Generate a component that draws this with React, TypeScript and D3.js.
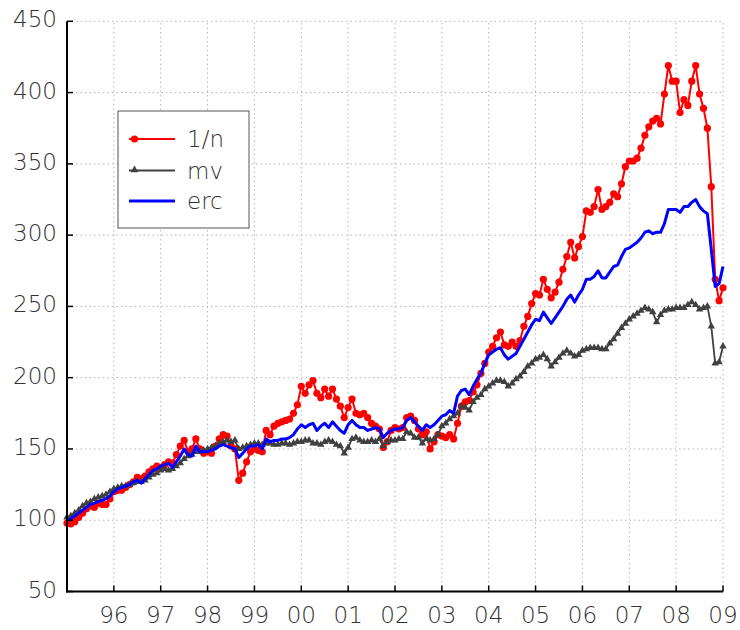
import React from "react";
import * as d3 from "d3";

const START_YEAR = 1995;
const yTicks = [50, 100, 150, 200, 250, 300, 350, 400, 450];
const xTickYears = [1996, 1997, 1998, 1999, 2000, 2001, 2002, 2003, 2004, 2005, 2006, 2007, 2008, 2009];
const xTickLabels = ["96", "97", "98", "99", "00", "01", "02", "03", "04", "05", "06", "07", "08", "09"];
const seriesNames = ["1/n", "mv", "erc"];

// monthly values, Jan 1995 .. Jan 2009
const oneOverN = [
  98, 97.5, 99, 102, 105, 108, 110, 109, 112, 111, 111, 115,
  120, 121, 121, 123, 125, 127, 130, 129, 131, 134, 136, 138,
  137, 139, 141, 140, 146, 152, 156, 148, 150, 157, 150, 147,
  148, 147, 152, 157, 160, 159, 152, 150, 128, 133, 141, 148,
  150, 149, 148, 163, 160, 166, 168, 169, 170, 171, 175, 181,
  194, 189, 195, 198, 189, 186, 192, 187, 192, 185, 180, 172,
  179, 185, 175, 174, 175, 172, 168, 166, 164, 151, 155, 163,
  165, 164, 165, 172, 173, 170, 164, 160, 162, 150, 155, 160,
  159, 158, 160, 157, 168, 180, 183, 184, 190, 195, 203, 210,
  218, 222, 228, 232, 223, 222, 225, 222, 226, 236, 243, 252,
  259, 258, 269, 262, 256, 260, 267, 276, 285, 295, 284, 292,
  299, 317, 316, 320, 332, 318, 320, 323, 329, 327, 336, 348,
  352, 352, 354, 361, 370, 376, 380, 382, 378, 399, 419, 408,
  408, 386, 395, 391, 408, 419, 399, 389, 375, 334, 269, 254,
  263,
];

const mv = [
  102, 103, 105, 107, 110, 112, 113, 115, 116, 117, 118, 120,
  122, 123, 124, 124, 125, 126, 127, 127, 128, 130, 132, 133,
  135, 136, 135, 136, 138, 140, 143, 145, 146, 148, 148, 149,
  150, 151, 152, 154, 155, 156, 155, 156, 150, 151, 152, 153,
  154, 154, 153, 154, 154, 153, 153, 154, 154, 153, 154, 155,
  155, 156, 156, 154, 154, 153, 155, 156, 155, 153, 152, 147,
  151, 157, 158, 156, 155, 155, 156, 155, 157, 152, 155, 156,
  156, 157, 157, 162, 161, 158, 158, 154, 157, 156, 157, 160,
  166, 168, 171, 173, 175, 180, 179, 177, 183, 186, 188, 192,
  194, 196, 198, 198, 197, 194, 196, 199, 201, 204, 208, 210,
  213, 214, 216, 213, 208, 211, 214, 217, 219, 217, 215, 216,
  219, 220, 221, 221, 221, 220, 220, 224, 227, 231, 235, 238,
  241, 243, 245, 247, 249, 248, 246, 239, 244, 247, 248, 248,
  249, 249, 249, 251, 253, 251, 248, 249, 250, 236, 210, 211,
  222,
];

const erc = [
  100, 101, 103, 105, 107, 109, 111, 112, 113, 114, 115, 117,
  120, 122, 123, 124, 125, 127, 128, 126, 129, 132, 135, 136,
  138, 139, 140, 137, 141, 145, 150, 146, 145, 152, 148, 148,
  148, 149, 150, 152, 153, 152, 151, 150, 144, 147, 150, 152,
  152, 153, 150, 157, 155, 156, 156, 157, 157, 158, 160, 164,
  167, 165, 167, 168, 163, 166, 168, 165, 169, 166, 163, 161,
  167, 170, 167, 165, 165, 163, 164, 165, 164, 158, 161, 163,
  164, 164, 165, 170, 172, 169, 166, 163, 167, 165, 167, 170,
  173, 174, 177, 175, 187, 191, 192, 188, 194, 199, 203, 210,
  216, 218, 220, 221, 216, 213, 215, 217, 222, 227, 232, 237,
  241, 240, 246, 242, 238, 242, 246, 250, 255, 258, 253, 258,
  262, 269, 269, 271, 275, 270, 270, 274, 278, 279, 285, 290,
  291, 293, 295, 298, 302, 303, 301, 302, 302, 308, 318, 318,
  318, 316, 320, 320, 323, 325, 320, 317, 315, 290, 264, 266,
  278,
];

const FONT = "'DejaVu Sans ExtraLight', 'DejaVu Sans', sans-serif";

export default function App() {
  const W = 740, H = 630;
  const x = d3.scaleLinear().domain([1995, 2009]).range([67, 723]);
  const y = d3.scaleLinear().domain([50, 450]).range([591.5, 21.3]);
  const t = (i: number) => START_YEAR + i / 12;
  const line = d3.line<number>().x((_, i) => x(t(i))).y((d) => y(d));
  const tri = d3.symbol().type(d3.symbolTriangle).size(24)();
  const triLegend = d3.symbol().type(d3.symbolTriangle).size(26)();
  const grid = "#b4b4b4";
  const [x0, x1] = x.range();
  const [yb, yt] = y.range();
  const txt = { fontFamily: FONT, fontWeight: 200, fontSize: 23, fill: "#333" } as const;

  return (
    <svg width={W} height={H} style={{ position: "absolute", left: 0, top: 0, background: "#fff" }}>
      <rect x={0} y={0} width={W} height={H} fill="#fff" />
      {yTicks.slice(1).map((v) => (
        <line key={"h" + v} x1={x0} x2={x1} y1={y(v)} y2={y(v)} stroke={grid} strokeWidth={1} strokeDasharray="1.5,3" />
      ))}
      {xTickYears.map((v) => (
        <line key={"v" + v} x1={x(v)} x2={x(v)} y1={yb} y2={yt} stroke={grid} strokeWidth={1} strokeDasharray="1.5,3" />
      ))}
      <path d={line(oneOverN) || ""} fill="none" stroke="#ff0000" strokeWidth={2} />
      {oneOverN.map((d, i) => (
        <circle key={"r" + i} cx={x(t(i))} cy={y(d)} r={3.6} fill="#ff0000" />
      ))}
      <path d={line(mv) || ""} fill="none" stroke="#404040" strokeWidth={1.8} />
      {mv.map((d, i) => (
        <path key={"g" + i} d={tri || ""} transform={`translate(${x(t(i))},${y(d)})`} fill="#404040" />
      ))}
      <path d={line(erc) || ""} fill="none" stroke="#0000ff" strokeWidth={3} strokeLinejoin="round" />
      <line x1={x0} x2={x0} y1={yt} y2={yb + 1} stroke="#000" strokeWidth={2} />
      <line x1={x0 - 1} x2={x1} y1={yb} y2={yb} stroke="#000" strokeWidth={2} />
      {yTicks.map((v) => (
        <g key={"yt" + v}>
          <line x1={x0} x2={x0 + 6} y1={y(v)} y2={y(v)} stroke="#000" strokeWidth={1.5} />
          <text x={57} y={y(v) + 6} textAnchor="end" {...txt}>{v}</text>
        </g>
      ))}
      {xTickYears.map((v, k) => (
        <g key={"xt" + v}>
          <line x1={x(v)} x2={x(v)} y1={yb} y2={yb - 6} stroke="#000" strokeWidth={1.5} />
          <text x={x(v)} y={623} textAnchor="middle" {...txt}>{xTickLabels[k]}</text>
        </g>
      ))}
      <g>
        <rect x={118} y={111} width={131} height={117} fill="#fff" stroke="#555" strokeWidth={1} />
        <line x1={129} x2={175} y1={139} y2={139} stroke="#ff0000" strokeWidth={2} />
        <circle cx={134.5} cy={139} r={3.6} fill="#ff0000" />
        <text x={187} y={147} {...txt}>{seriesNames[0]}</text>
        <line x1={129} x2={175} y1={170.5} y2={170.5} stroke="#404040" strokeWidth={2} />
        <path d={triLegend || ""} transform="translate(134.5,170)" fill="#404040" />
        <text x={187} y={178.5} {...txt}>{seriesNames[1]}</text>
        <line x1={129} x2={175} y1={201} y2={201} stroke="#0000ff" strokeWidth={3} />
        <text x={187} y={209} {...txt}>{seriesNames[2]}</text>
      </g>
    </svg>
  );
}
